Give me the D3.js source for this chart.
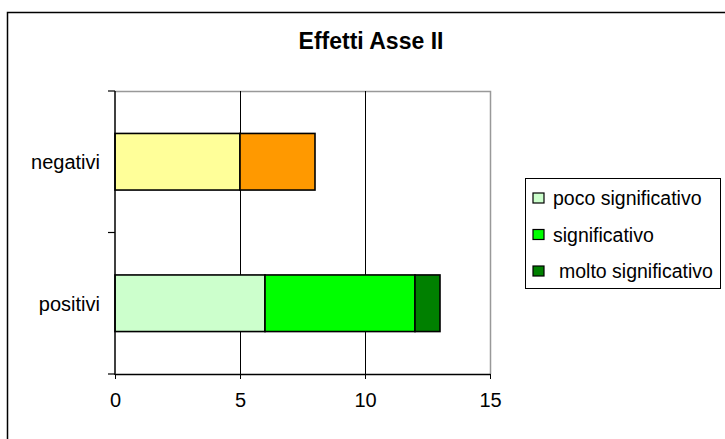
<!DOCTYPE html>
<html>
<head>
<meta charset="utf-8">
<script src="https://cdn.jsdelivr.net/npm/d3@7"></script>
<style>
  body { margin: 0; background: #fff; }
  text { font-family: "Liberation Sans", Arial, sans-serif; }
</style>
</head>
<body>
<div id="chart"></div>
<script>
// dati
const categories = ["negativi", "positivi"];
const seriesNames = ["poco significativo", "significativo", "molto significativo"];
const pocoValues = [5, 6];
const signifValues = [3, 6];
const moltoValues = [0, 1];
const xTicks = [0, 5, 10, 15];

// colori per serie (positivi) e per i punti di "negativi"
const seriesColors = ["#CCFFCC", "#00FF00", "#008000"];
const negColors = ["#FFFF99", "#FF9900", "#FF6600"];

const W = 725, H = 439;

const svg = d3.select("#chart").append("svg")
    .attr("width", W)
    .attr("height", H);

// bordo esterno
svg.append("rect")
    .attr("x", 7.5).attr("y", 12.5)
    .attr("width", W + 10).attr("height", H + 10)
    .attr("fill", "none").attr("stroke", "#000").attr("stroke-width", 1.5);

svg.append("text")
    .attr("x", 371).attr("y", 49)
    .attr("text-anchor", "middle")
    .style("font-size", "23px")
    .style("font-weight", "bold")
    .text("Effetti Asse II");

const x = d3.scaleLinear().domain([0, 15]).range([115, 490]);
const y = d3.scaleBand().domain(categories).range([91, 374]).padding(0);

const g = svg.append("g");

// bordo area grafico (grigio)
g.append("path")
    .attr("d", `M${x(0)},${y.range()[0] + 0.5}H${x(15) + 0.5}V${y.range()[1]}`)
    .attr("fill", "none").attr("stroke", "#999").attr("stroke-width", 1.5);

// griglia verticale
g.selectAll(".grid")
  .data(xTicks.filter(d => d > 0 && d < 15))
  .enter().append("line")
    .attr("x1", d => x(d) + 0.5).attr("x2", d => x(d) + 0.5)
    .attr("y1", y.range()[0]).attr("y2", y.range()[1])
    .attr("stroke", "#000").attr("stroke-width", 1);

// barre impilate
const rows = categories.map((c, i) => ({ cat: c, vals: [pocoValues[i], signifValues[i], moltoValues[i]] }));
const stack = d3.stack().keys([0, 1, 2]).value((d, k) => d.vals[k]);
const layers = stack(rows);

const barH = y.bandwidth() * 0.4;
const barOff = y.bandwidth() * 0.3;

layers.forEach((layer, k) => {
  g.selectAll(".bar" + k)
    .data(layer.filter(d => d[1] - d[0] > 0))
    .enter().append("rect")
      .attr("x", d => x(d[0]))
      .attr("y", d => y(d.data.cat) + barOff)
      .attr("width", d => x(d[1]) - x(d[0]))
      .attr("height", barH)
      .attr("fill", d => d.data.cat === "negativi" ? negColors[k] : seriesColors[k])
      .attr("stroke", "#000").attr("stroke-width", 1.6);
});

// asse x
const xAxis = d3.axisBottom(x).tickValues(xTicks).tickSize(5).tickPadding(14).tickSizeOuter(0);
const gx = svg.append("g").attr("transform", `translate(0,${y.range()[1]})`).call(xAxis);
gx.select(".domain").attr("stroke-width", 1.5);
gx.selectAll("text").style("font-size", "20px").attr("fill", "#000");

// asse y con tacche ai bordi delle categorie
const gy = svg.append("g");
gy.append("line")
    .attr("x1", x(0)).attr("x2", x(0))
    .attr("y1", y.range()[0]).attr("y2", y.range()[1] + 1)
    .attr("stroke", "#000").attr("stroke-width", 1.5);
const bounds = [y.range()[0]].concat(categories.map(c => y(c) + y.bandwidth()));
gy.selectAll(".yt")
  .data(bounds)
  .enter().append("line")
    .attr("x1", x(0) - 7).attr("x2", x(0))
    .attr("y1", d => d).attr("y2", d => d)
    .attr("stroke", "#000").attr("stroke-width", 1.2);
gy.selectAll(".yl")
  .data(categories)
  .enter().append("text")
    .attr("x", 100)
    .attr("y", d => y(d) + y.bandwidth() / 2)
    .attr("dy", "0.38em")
    .attr("text-anchor", "end")
    .style("font-size", "20px")
    .text(d => d);

// legenda
const leg = svg.append("g");
leg.append("rect")
    .attr("x", 525.5).attr("y", 178.5)
    .attr("width", 195).attr("height", 110)
    .attr("fill", "#fff").attr("stroke", "#000").attr("stroke-width", 1);

const legY = d3.scalePoint().domain(seriesNames).range([198, 271]);
seriesNames.forEach((s, k) => {
  leg.append("rect")
      .attr("x", 533).attr("y", legY(s) - 5)
      .attr("width", 11).attr("height", 10)
      .attr("fill", seriesColors[k]).attr("stroke", "#000").attr("stroke-width", 1.2);
  leg.append("text")
      .attr("x", k === 2 ? 559 : 553)
      .attr("y", legY(s))
      .attr("dy", "0.38em")
      .style("font-size", "19.5px")
      .text(s);
});
</script>
</body>
</html>
